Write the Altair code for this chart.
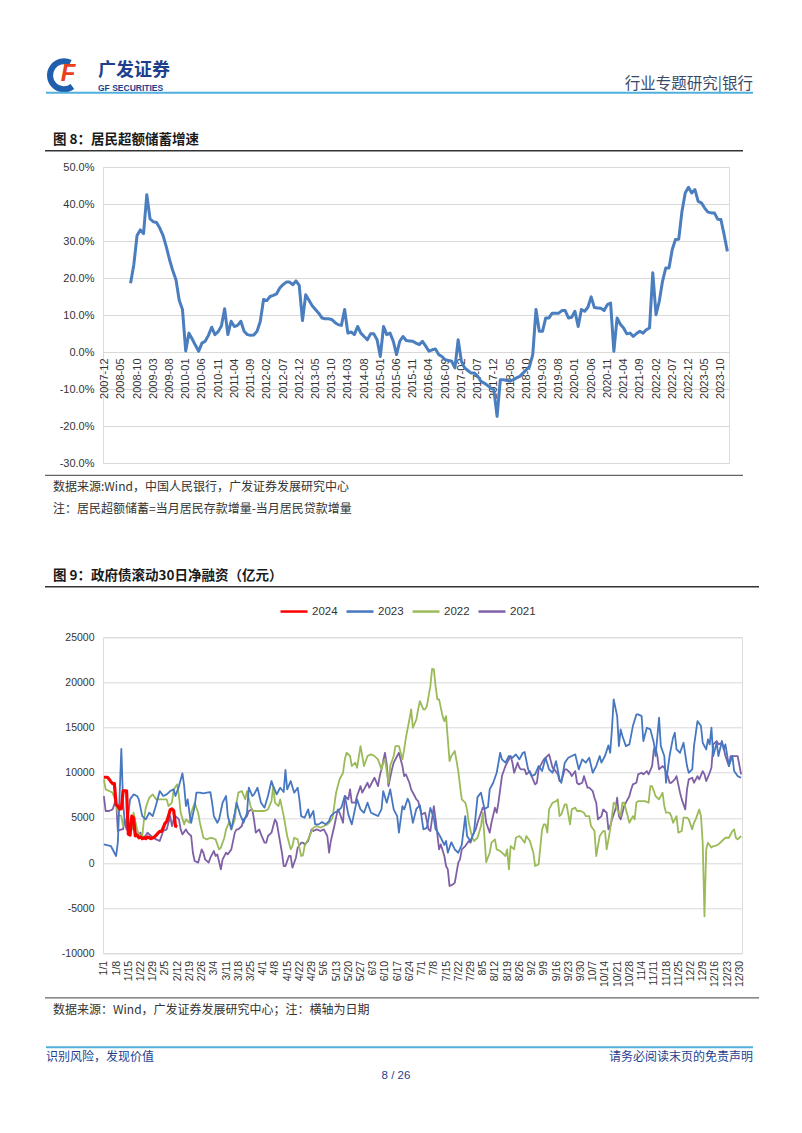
import altair as alt
import pandas as pd

# ---------------- fonts / colours ----------------
LATIN = "Liberation Sans"
CJK = "Noto Sans CJK SC"
TXT = "#333333"
NAVY = "#1d3f8e"
CYAN = "#4fb0dc"
GRID = "#d9d9d9"
BLUE8 = "#4a7ebf"

# ---------------- Figure 8 data (monthly, %) ----------------
fig8_axis_first = "2007-12"
fig8_axis_last = "2023-12"
fig8_first_month = "2008-08"
fig8_growth_pct = [
    18.6, 23.6, 31.5, 33.0, 32.0, 42.5, 36.0, 35.2, 35.0, 33.5, 31.5, 28.5, 25.0, 22.0, 19.5, 14.0, 11.5, 0.3,
    5.1, 3.5, 1.8, 0.2, 2.4, 2.9, 4.5, 6.7, 4.7, 5.5, 7.0, 11.7, 4.7, 8.3, 6.9, 7.2, 8.3, 5.6, 4.7, 4.5,
    4.6, 5.6, 8.3, 14.2, 13.9, 15.0, 15.3, 15.7, 17.3, 18.2, 18.9, 18.9, 18.2, 19.2, 18.0, 8.5, 15.5, 14.0, 12.5, 11.5,
    10.5, 9.2, 9.0, 9.0, 8.8, 8.0, 7.4, 7.2, 11.5, 5.1, 5.4, 4.7, 6.9, 5.1, 4.2, 3.3, 4.9, 4.9, 3.3, -1.2,
    6.9, 4.7, 5.1, 2.9, -0.7, 2.9, 4.2, 3.1, 3.0, 2.9, 2.4, 2.0, 2.9, 1.6, 0.2, 0.6, 0.8, -0.7, -1.2, -2.1,
    -2.3, -2.5, -4.3, 3.3, -2.5, -4.3, -5.0, -5.7, -5.7, -6.5, -7.9, -8.4, -9.0, -9.7, -10.2, -17.4, -7.5, -7.5, -7.7, -7.9,
    -7.5, -7.0, -6.6, -5.7, -4.8, -3.9, -0.7, 11.5, 5.6, 5.6, 9.2, 9.2, 10.5, 10.5, 10.5, 11.2, 11.2, 9.2, 9.4, 11.0,
    6.9, 11.5, 11.0, 12.1, 14.9, 12.0, 11.9, 11.8, 11.2, 12.8, 13.2, 0.2, 9.2, 7.5, 6.5, 4.9, 5.1, 4.2, 5.0, 5.6,
    5.1, 6.0, 6.5, 21.4, 10.1, 13.7, 19.1, 22.7, 22.7, 27.7, 30.4, 30.5, 38.0, 43.0, 44.5, 43.0, 43.9, 40.7, 40.3, 38.9,
    37.8, 37.6, 37.6, 35.9, 35.8, 31.7, 27.2,
]
fig8_y_ticks = [-0.3, -0.2, -0.1, 0.0, 0.1, 0.2, 0.3, 0.4, 0.5]

# ---------------- Figure 9 data (day of year, 亿元) ----------------
fig9_years = ["2024", "2023", "2022", "2021"]
fig9_colors = ["#ff0000", "#4677c0", "#9bbb59", "#7f60a6"]
fig9_y_ticks = [-10000, -5000, 0, 5000, 10000, 15000, 20000, 25000]

s2024 = list(zip(range(43), [
    9500, 9500, 9500, 9300, 9000, 8800, 8800, 6500, 6300, 6000, 6000, 8000, 8000, 8000, 3200, 3100, 5200, 5000,
    3000, 3100, 2800, 2900, 2700, 2800, 2700, 2900, 2800, 2700, 2800, 2900, 3100, 3300, 3500, 3500, 3900, 4400,
    4600, 5200, 5900, 6000, 5800, 4100, 4000]))

s2023 = [(0,2070),(4,1880),(7,780),(8,2250),(10,12650),(11,6680),(12,4470),(13,3730),(15,7050),(17,7600),(19,7420),
    (20,7050),(22,5200),(24,4830),(26,5570),(28,5200),(30,6500),(32,7970),(34,7420),(36,7600),(38,7970),(40,8150),
    (41,7420),(43,8520),(45,9930),(46,8520),(47,6310),(48,7050),(49,5570),(50,4460),(52,6310),(53,7790),(55,7790),
    (57,7710),(59,7790),(61,7860),(62,6680),(63,5200),(65,4460),(66,4830),(68,6680),(70,7420),(71,5200),(73,3730),
    (75,5570),(76,6680),(78,5390),(80,4460),(82,5570),(83,8340),(85,7420),(86,7600),(88,8340),(90,6680),(92,6130),
    (94,7420),(96,9080),(97,8520),(99,7600),(101,8340),(103,7860),(104,10300),(105,8150),(107,9080),(109,7790),
    (111,8340),(112,7050),(113,5200),(115,5020),(117,5940),(118,5020),(120,5760),(121,4280),(123,4280),(125,4540),
    (127,4280),(129,4650),(130,5200),(132,5570),(134,5760),(136,6130),(138,7420),(140,5390),(142,4280),(143,5200),
    (145,7050),(147,5940),(149,5570),(151,6680),(153,5570),(155,5390),(157,5200),(159,5940),(160,7970),(162,6680),
    (164,8150),(166,5940),(168,5200),(169,3360),(171,6310),(172,5940),(174,7120),(175,6680),(177,4460),(179,6000),
    (181,6400),(183,3730),(185,3900),(187,6100),(189,5000),(190,3730),(191,3500),(193,2800),(195,2000),(196,2440),
    (197,1140),(199,2300),(201,1500),(203,1140),(205,2000),(207,5200),(208,3000),(210,2400),(212,3400),(214,7300),
    (216,7790),(218,6000),(220,6200),(221,8150),(223,8890),(225,10000),(227,12210),(228,11480),(230,11110),
    (232,11850),(234,11660),(236,12030),(238,11480),(240,12210),(241,12290),(243,10370),(245,9630),(247,9820),
    (249,10740),(251,10180),(253,11660),(255,10370),(257,10000),(259,11290),(261,9260),(262,8890),(264,11110),
    (266,11660),(268,11850),(270,12030),(272,10370),(274,11480),(276,11110),(278,11660),(280,10000),(282,10740),
    (284,11850),(285,11110),(287,11850),(289,13030),(290,12210),(291,14800),(292,18120),(294,16270),(295,12950),
    (296,14800),(297,14060),(299,12950),(301,13140),(303,15170),(305,16460),(306,16460),(308,16270),(309,13510),
    (311,14980),(313,14800),(315,13320),(316,11850),(318,16090),(319,12950),(321,11850),(322,8890),(324,11850),
    (326,13880),(327,14430),(328,12580),(330,12210),(332,13320),(334,10740),(335,10000),(337,10370),(338,12950),
    (340,15720),(342,15170),(343,13320),(345,12580),(346,13690),(347,13140),(348,14980),(349,11850),(351,13320),
    (352,11850),(354,13510),(355,12580),(356,13140),(358,10740),(360,11850),(361,10180),(363,9630),(365,9450)]

s2022 = [(0,9260),(1,8150),(3,7970),(5,7790),(7,6680),(8,5390),(10,5200),(11,4100),(12,4830),(14,4460),(16,3730),
    (17,5570),(19,3730),(20,3170),(22,2990),(23,4830),(24,6130),(26,7230),(28,7600),(30,7050),(32,7050),(34,7050),
    (36,7050),(37,6310),(39,6680),(40,8150),(42,8710),(43,7420),(44,5570),(46,4280),(47,4830),(49,4460),(50,5570),
    (52,6680),(54,5570),(55,4460),(57,2800),(59,2620),(61,2800),(63,2690),(64,2620),(66,1510),(67,1700),(69,2800),
    (70,3730),(72,4650),(73,3730),(75,4830),(76,6680),(77,7790),(79,7970),(81,7050),(82,7970),(84,6310),(85,5760),
    (86,5760),(88,5760),(90,5760),(92,5760),(94,5940),(96,6860),(97,8520),(98,6680),(100,6310),(101,7050),(103,5200),
    (105,2990),(107,1510),(108,1880),(109,2800),(111,2620),(113,775),(114,850),(115,1880),(117,2620),(119,3540),
    (120,3910),(122,4100),(124,3910),(126,4100),(128,4280),(129,4460),(131,5020),(133,7790),(134,8520),(135,9260),
    (137,10000),(138,11480),(139,12210),(141,11850),(142,10740),(144,11110),(145,10550),(147,12950),(148,11850),
    (149,10740),(151,11850),(153,12030),(155,11850),(157,11480),(159,10370),(160,11110),(161,11480),(163,8890),
    (164,10740),(166,11850),(167,12950),(169,12950),(171,11480),(172,12580),(173,13880),(175,15900),(176,17010),
    (177,14980),(179,15900),(180,17010),(181,17930),(183,17010),(184,17010),(185,17380),(187,19590),(188,21510),
    (189,21440),(190,19590),(191,18120),(192,18120),(194,16270),(195,15720),(196,16270),(197,13690),(198,11290),
    (199,11850),(201,12400),(203,10180),(204,8520),(205,7050),(207,6680),(208,5940),(209,4460),(211,2800),(212,2440),
    (214,2800),(216,4100),(217,5570),(218,2800),(219,100),(221,1140),(222,2250),(224,2620),(225,1510),(227,1330),
    (228,1140),(230,775),(231,1510),(232,-700),(233,1880),(235,1510),(236,2800),(238,2990),(239,2800),(241,2250),
    (242,2990),(244,2440),(246,1140),(247,-330),(249,-150),(251,3730),(252,4280),(253,4280),(254,3360),(255,5940),
    (257,6680),(259,6860),(260,7050),(261,5200),(262,5390),(264,6500),(265,6500),(267,4280),(268,5940),(270,6130),
    (271,5760),(273,5760),(275,5570),(276,5200),(278,5200),(279,4100),(281,3540),(282,775),(283,1880),(284,2990),
    (286,3540),(287,3540),(288,1510),(290,3730),(291,5200),(292,6680),(293,6500),(294,5940),(296,5200),(297,6680),
    (298,6680),(300,5200),(301,4460),(303,5200),(304,4830),(305,6680),(306,6860),(308,6860),(310,6860),(312,6680),
    (313,8520),(314,8520),(316,7420),(317,7230),(318,7050),(320,7790),(321,6310),(322,5570),(324,5570),(325,5200),
    (326,4460),(328,5200),(329,3360),(331,3540),(332,5020),(334,5020),(335,4830),(337,3730),(338,4460),(339,4830),
    (341,5940),(342,5200),(343,2250),(344,-5900),(345,1510),(346,2250),(348,1700),(349,1880),(350,1880),(352,2060),
    (354,2440),(356,2800),(358,2800),(360,3540),(361,3730),(362,2800),(363,2620),(365,2990)]

s2021 = [(0,7420),(1,5760),(3,5760),(5,5940),(7,7050),(8,3540),(10,3730),(11,3730),(12,4830),(14,3360),(16,3910),
    (18,3540),(19,2990),(21,3360),(22,2620),(23,2800),(25,3360),(27,2990),(28,2800),(30,2620),(32,2440),(34,3540),
    (36,3730),(38,5200),(39,4100),(40,4830),(41,5200),(43,4830),(44,3730),(45,3170),(47,3730),(48,3360),(50,2990),
    (51,1140),(52,220),(54,40),(56,1510),(57,1140),(58,400),(60,40),(61,590),(63,1330),(64,775),(65,960),(67,-700),
    (68,400),(70,1140),(71,960),(73,1510),(75,3360),(76,3730),(77,3730),(79,4100),(80,4830),(82,5200),(83,5760),
    (85,5940),(86,4830),(87,3360),(89,3730),(90,3170),(92,2250),(93,2250),(94,2990),(96,3360),(98,4830),(99,4460),
    (100,3360),(102,1140),(103,-330),(104,-330),(106,775),(107,775),(108,-520),(110,590),(111,1700),(113,2250),
    (114,2250),(115,2060),(117,2440),(119,3730),(120,3540),(122,3730),(124,3540),(126,3730),(128,2990),(129,1140),
    (130,2440),(132,4100),(134,5940),(135,5570),(137,4460),(138,7420),(140,7050),(141,8150),(142,6680),(144,6680),
    (145,7420),(147,8520),(148,7790),(149,8150),(151,8890),(152,8340),(154,9080),(155,9450),(157,8520),(158,9630),
    (159,10370),(161,12210),(162,10920),(163,8520),(165,10370),(166,11110),(168,11850),(169,12210),(171,10740),
    (172,9630),(173,9820),(175,8890),(176,8150),(178,7420),(179,7050),(180,6860),(182,5390),(184,5570),(186,3730),
    (187,3540),(189,6310),(190,4830),(192,1510),(193,2060),(195,775),(196,-330),(197,-700),(198,-2550),(200,-2360),
    (201,-2180),(203,40),(204,400),(205,1510),(207,1880),(209,2440),(210,2250),(211,2990),(213,3730),(214,4460),
    (216,5570),(217,6130),(218,5940),(219,4460),(221,3360),(222,4460),(224,6130),(225,5570),(226,6680),(227,8150),
    (228,9630),(230,10740),(231,11110),(233,11850),(234,11110),(235,10000),(237,11110),(238,10550),(239,10370),
    (241,10370),(242,9820),(244,10180),(245,9630),(247,8710),(248,8890),(249,10370),(251,11110),(252,11480),
    (254,11850),(255,12030),(257,10550),(258,10370),(260,9820),(261,9080),(262,9080),(264,10370),(265,10370),
    (267,10000),(268,9630),(270,10180),(271,8890),(272,8710),(274,8890),(275,9630),(277,8340),(278,8340),(280,7970),
    (281,7230),(282,6680),(283,4830),(285,5200),(286,5940),(288,5570),(289,3730),(290,4100),(291,4830),(293,5940),
    (294,7230),(295,5200),(296,4830),(298,6310),(299,6680),(301,7420),(302,8150),(303,8710),(305,8890),(306,9820),
    (308,10000),(309,9820),(311,10180),(312,9820),(314,10740),(315,12580),(316,12770),(317,11850),(318,10370),
    (320,10740),(321,10550),(323,9630),(324,8890),(325,8890),(327,9260),(328,9630),(330,7790),(331,7050),(333,5940),
    (334,8150),(335,9260),(337,9450),(338,8890),(340,9630),(341,9260),(343,10180),(344,9820),(345,9080),(347,10000),
    (348,10550),(349,13140),(351,13510),(352,13140),(354,13320),(355,12770),(356,11850),(358,10740),(359,11850),
    (361,11850),(362,11850),(363,11850),(365,9820)]

# ---------------- tables ----------------
all_months = pd.period_range(fig8_axis_first, fig8_axis_last, freq="M").strftime("%Y-%m").tolist()
tick_months = all_months[::5]
data_months = pd.period_range(fig8_first_month, periods=len(fig8_growth_pct), freq="M").strftime("%Y-%m").tolist()
df8 = pd.DataFrame({"month": data_months, "growth": [v / 100 for v in fig8_growth_pct]})

rows = []
for yr, series in [("2021", s2021), ("2022", s2022), ("2023", s2023), ("2024", s2024)]:
    for d, v in series:
        rows.append({"year": yr, "day": d, "value": v})
df9 = pd.DataFrame(rows)

# ---------------- layout (page pixels) ----------------
W1, H1 = 626, 296
O1 = (102, 165.7)
W2, H2 = 639, 316
O2 = (102, 636)
SPACING = O2[1] - (O1[1] + H1)

ONE = pd.DataFrame({"k": [0]})


def label(txt, x, y, origin, size=12, color=TXT, weight="normal", align="left", font=CJK, style="normal"):
    return alt.Chart(ONE).mark_text(
        text=txt, fontSize=size, color=color, fontWeight=weight, align=align,
        baseline="middle", font=font, fontStyle=style
    ).encode(x=alt.value(x - origin[0]), y=alt.value(y - origin[1]))


def hline(x1, x2, y, origin, color, width):
    return alt.Chart(ONE).mark_rule(color=color, strokeWidth=width).encode(
        x=alt.value(x1 - origin[0]), x2=alt.value(x2 - origin[0]), y=alt.value(y - origin[1]))


# ---------------- Figure 8 ----------------
line8 = alt.Chart(df8).mark_line(color=BLUE8, strokeWidth=3, strokeJoin="round").encode(
    x=alt.X("month:O", sort=None,
            scale=alt.Scale(type="point", domain=all_months, padding=0.5),
            axis=alt.Axis(values=tick_months, labelAngle=270, offset=-H1 * 3 / 8, domain=False, ticks=False,
                          grid=False, labelPadding=6, labelFontSize=11, labelFont=LATIN, labelColor=TXT,
                          title=None, labelOverlap=False)),
    y=alt.Y("growth:Q", scale=alt.Scale(domain=[-0.3, 0.5], nice=False),
            axis=alt.Axis(values=fig8_y_ticks,
                          labelExpr="replace(format(datum.value, '.1%'), '\u2212', '-')",
                          grid=True, gridColor=GRID, gridWidth=1, domain=False, ticks=False,
                          labelPadding=9, labelFontSize=11, labelFont=LATIN, labelColor=TXT,
                          title=None, labelFlush=False)),
)

logo_arc = alt.Chart(ONE).mark_arc(color="#1f5fae", innerRadius=11, outerRadius=17).encode(
    x=alt.value(63 - O1[0]), y=alt.value(74 - O1[1]), theta=alt.value(2.5), theta2=alt.value(6.75))

decos1 = [
    hline(8, 8.01, 8, O1, "white", 0.001),  # page anchor
    logo_arc,
    label("F", 67, 73, O1, size=24, color="#e8401c", weight="bold", font=LATIN, align="center", style="italic"),
    label("广发证券", 97, 70, O1, size=18, color=NAVY, weight="bold"),
    label("GF SECURITIES", 97, 87, O1, size=8.5, color=NAVY, weight="bold", font=LATIN),
    label("行业专题研究|银行", 752, 83, O1, size=15.5, color="#3b4a68", align="right"),
    hline(45, 752, 91.5, O1, CYAN, 2),
    label("图 8：居民超额储蓄增速", 52, 139, O1, size=13.5, color="#1a1a1a", weight="bold"),
    hline(44, 742, 149.5, O1, "#333333", 1.5),
    hline(44, 742, 474, O1, "#666666", 1.2),
    label("数据来源:Wind，中国人民银行，广发证券发展研究中心", 52, 485.5, O1, size=12, color=TXT),
    label("注：居民超额储蓄=当月居民存款增量-当月居民贷款增量", 52, 507.5, O1, size=12, color=TXT),
]

chart1 = alt.layer(line8, *decos1).properties(width=W1, height=H1)

# ---------------- Figure 9 ----------------
x9 = alt.X("day:Q", scale=alt.Scale(domain=[-0.5, 365.5], nice=False, zero=False),
           axis=alt.Axis(values=list(range(0, 365, 7)),
                         labelExpr="timeFormat(datetime(2024, 0, 1 + datum.value), '%-m/%-d')",
                         labelAngle=270, domain=False, ticks=False, grid=False, labelPadding=7,
                         labelFontSize=10.5, labelFont=LATIN, labelColor=TXT, labelFlush=False,
                         labelOverlap=False, title=None))
y9 = alt.Y("value:Q", scale=alt.Scale(domain=[-10000, 25000], nice=False),
           axis=alt.Axis(values=fig9_y_ticks,
                         labelExpr="replace(format(datum.value, 'd'), '\u2212', '-')",
                         grid=True, gridColor=GRID, gridWidth=1, domain=False, ticks=False,
                         labelPadding=9, labelFontSize=10.5, labelFont=LATIN, labelColor=TXT,
                         title=None, labelFlush=False))
color9 = alt.Color("year:N", scale=alt.Scale(domain=fig9_years, range=fig9_colors),
                   legend=alt.Legend(orient="none", legendX=176, legendY=-41, direction="horizontal",
                                     title=None, symbolType="stroke", symbolSize=729, symbolStrokeWidth=2.5,
                                     labelFontSize=11.5, labelFont=LATIN, labelColor=TXT, labelOffset=3,
                                     columnPadding=3, padding=0))

lines9 = []
for yr, sw in [("2021", 1.8), ("2022", 1.8), ("2023", 1.8), ("2024", 3.2)]:
    lines9.append(
        alt.Chart(df9).transform_filter(alt.datum.year == yr)
        .mark_line(strokeWidth=sw, strokeJoin="round")
        .encode(x=x9, y=y9, color=color9)
    )

decos2 = [
    label("图 9：政府债滚动30日净融资（亿元）", 52, 575, O2, size=13.5, color="#1a1a1a", weight="bold"),
    hline(44, 758, 585.5, O2, "#333333", 1.5),
    hline(44, 758, 996.5, O2, "#666666", 1.2),
    label("数据来源：Wind，广发证券发展研究中心；注：横轴为日期", 52, 1008.5, O2, size=12, color=TXT),
    hline(45, 752, 1046, O2, CYAN, 2),
    label("识别风险，发现价值", 45, 1056, O2, size=12, color=NAVY),
    label("请务必阅读末页的免责声明", 752, 1056, O2, size=12, color=NAVY, align="right"),
    label("8 / 26", 395, 1075, O2, size=11.5, color=NAVY, font=LATIN, align="center"),
]

chart2 = alt.layer(*lines9, *decos2).properties(width=W2, height=H2)

chart = alt.vconcat(chart1, chart2, spacing=SPACING, bounds="flush").resolve_scale(
    color="independent"
).properties(padding=0).configure_view(stroke=None).configure(font=LATIN)

chart.save("out.html", embed_options={"renderer": "svg", "actions": False})
